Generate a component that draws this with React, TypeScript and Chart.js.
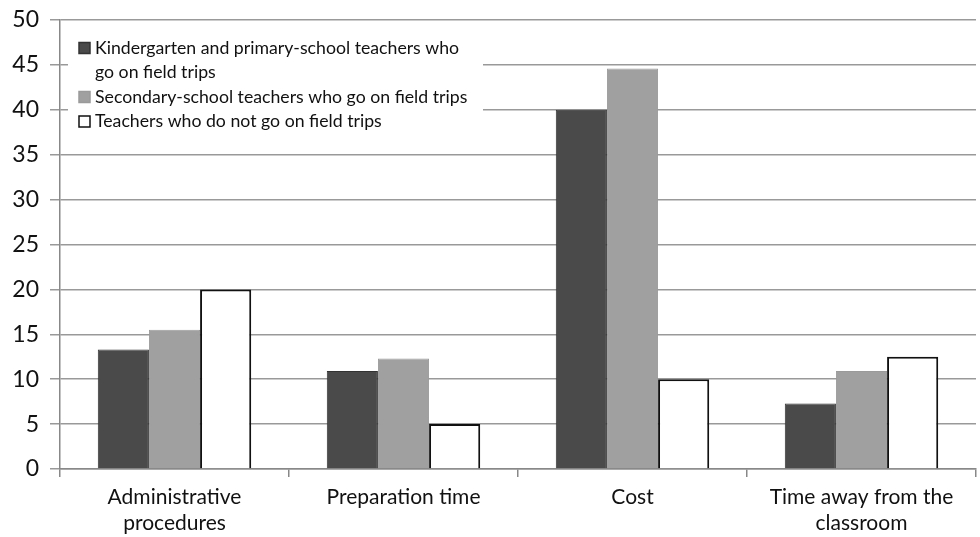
import React, { useEffect, useRef } from "react";
import { Chart, registerables } from "chart.js";

Chart.register(...registerables);

const categories: string[][] = [
  ["Administrative", "procedures"],
  ["Preparation time"],
  ["Cost"],
  ["Time away from the", "classroom"],
];

const primaryTeachers = [13.3, 10.9, 40, 7.3];
const secondaryTeachers = [15.5, 12.3, 44.6, 10.9];
const nonGoingTeachers = [20, 5, 10, 12.5];

const seriesLabels: string[][] = [
  ["Kindergarten and primary-school teachers who", "go on field trips"],
  ["Secondary-school teachers who go on field trips"],
  ["Teachers who do not go on field trips"],
];

const FONT = "Lato, 'Open Sans', sans-serif";

// Legend drawn on a white panel inside the plot area, top-left.
const insetLegend = {
  id: "insetLegend",
  afterDraw(chart: any) {
    const { ctx, chartArea } = chart;
    const x0 = chartArea.left + 8;
    const y0 = chartArea.top + 9;
    ctx.save();
    ctx.fillStyle = "#ffffff";
    ctx.fillRect(x0, y0, 415, 116);
    ctx.font = `17.7px ${FONT}`;
    ctx.textBaseline = "middle";
    let y = y0 + 19;
    const lineH = 24.5;
    chart.data.datasets.forEach((ds: any, i: number) => {
      const box = 11;
      const bx = x0 + 11;
      ctx.fillStyle = ds.backgroundColor;
      ctx.fillRect(bx, y - box / 2, box, box);
      ctx.strokeStyle = ds.borderColor;
      ctx.lineWidth = 1.5;
      ctx.strokeRect(bx, y - box / 2, box, box);
      ctx.fillStyle = "#111";
      seriesLabels[i].forEach((line, j) => {
        ctx.fillText(line, bx + 16, y + j * lineH);
      });
      y += lineH * seriesLabels[i].length;
    });
    ctx.restore();
  },
};

export default function App() {
  const ref = useRef<HTMLCanvasElement | null>(null);

  useEffect(() => {
    if (!ref.current) return;
    const chart = new Chart(ref.current, {
      type: "bar",
      data: {
        labels: categories,
        datasets: [
          {
            label: seriesLabels[0].join(" "),
            data: primaryTeachers,
            backgroundColor: "#4a4a4a",
            borderColor: "#333333",
            borderWidth: 1,
          },
          {
            label: seriesLabels[1].join(" "),
            data: secondaryTeachers,
            backgroundColor: "#a0a0a0",
            borderColor: "#9a9a9a",
            borderWidth: 1,
          },
          {
            label: seriesLabels[2].join(" "),
            data: nonGoingTeachers,
            backgroundColor: "#ffffff",
            borderColor: "#111111",
            borderWidth: 2,
          },
        ],
      },
      options: {
        animation: false,
        responsive: false,
        layout: { padding: { top: 20, right: 4, left: 0, bottom: 0 } },
        datasets: {
          bar: { categoryPercentage: 0.67, barPercentage: 1.0 },
        },
        plugins: {
          legend: { display: false },
          tooltip: { enabled: false },
        },
        scales: {
          x: {
            grid: {
              offset: true,
              drawOnChartArea: false,
              drawTicks: true,
              tickLength: 8,
              color: "#888",
              lineWidth: 1.5,
            },
            border: { color: "#888", width: 1.5 },
            ticks: {
              color: "#111",
              font: { family: FONT, size: 21, lineHeight: 1.2 },
              padding: 8,
              maxRotation: 0,
            },
            afterFit(scale: any) {
              scale.height = 68;
              scale.paddingLeft = 0;
              scale.paddingRight = 0;
            },
          },
          y: {
            min: 0,
            max: 50,
            ticks: {
              stepSize: 5,
              color: "#111",
              font: { family: FONT, size: 23 },
              padding: 11,
            },
            grid: {
              color: "#999",
              lineWidth: 1.5,
              tickLength: 10,
            },
            border: { color: "#888", width: 1.5 },
            afterFit(scale: any) {
              scale.width = 60;
              scale.paddingTop = 0;
              scale.paddingBottom = 0;
            },
          },
        },
      },
      plugins: [insetLegend],
    });
    return () => chart.destroy();
  }, []);

  return (
    <div style={{ position: "fixed", left: 0, top: 0, width: 980, height: 537, background: "#fff" }}>
      <canvas ref={ref} width={980} height={537} />
    </div>
  );
}
